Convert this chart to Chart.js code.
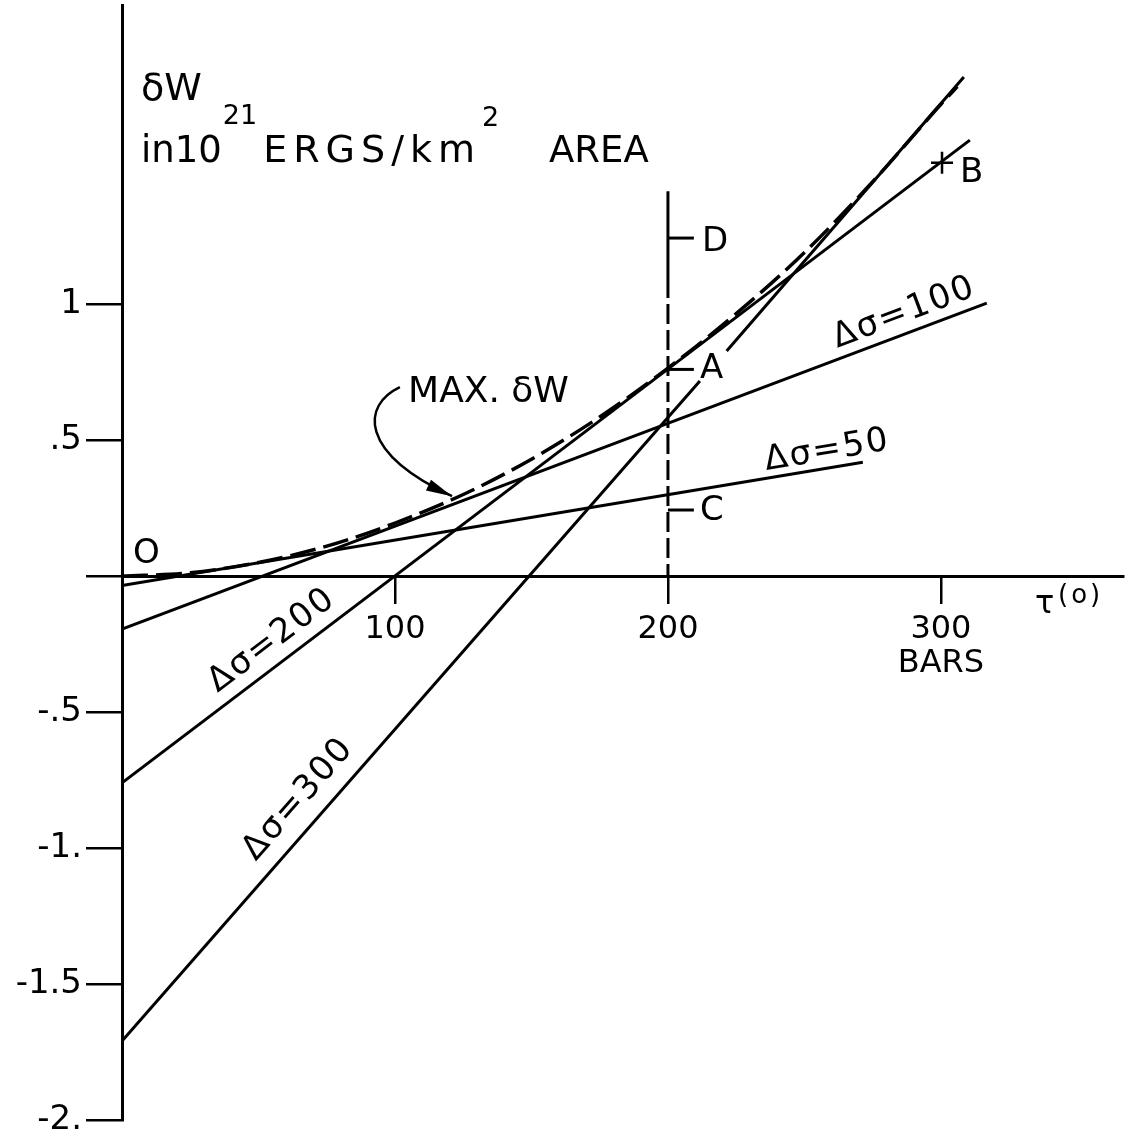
<!DOCTYPE html>
<html>
<head>
<meta charset="utf-8">
<script src="https://cdn.jsdelivr.net/npm/chart.js@4.4.0/dist/chart.umd.min.js"></script>
<style>
  html, body { margin: 0; padding: 0; background: #fff; }
</style>
</head>
<body>
<canvas id="grafico" width="1131" height="1138"></canvas>
<script>
// axis ticks
const xTicks = [0, 100, 200, 300];
const xTickLabels = ['', '100', '200', ['300', 'BARS']];
const yTicks = [-2, -1.5, -1, -0.5, 0, 0.5, 1];
const yTickLabels = ['-2.', '-1.5', '-1.', '-.5', '', '.5', '1'];

// straight lines, one per stress drop (null = gap under the "A")
const sigmaNames = ['Δσ=50', 'Δσ=100', 'Δσ=200', 'Δσ=300'];
const sigmaTau = [[0, 271.4], [0, 316.8], [0, 310.6], [0, 211.7, 211.7, 221.5, 308.4]];
const sigmaW = [[-0.035, 0.419], [-0.195, 1.004], [-0.76, 1.603], [-1.71, 0.717, null, 0.828, 1.835]];
const sigmaLabelTau = [236, 262, 35, 49];
const sigmaLabelW = [0.39, 0.84, -0.43, -1.05];

// envelope (max dW), dashed
const maxTau = [0, 25, 50, 75, 100, 125, 150, 175, 200, 225, 250, 275, 300, 306];
const maxW = [0, 0.012, 0.05, 0.11, 0.195, 0.30, 0.43, 0.585, 0.765, 0.965, 1.19, 1.45, 1.735, 1.80];

// vertical line at tau = 200 and its marks
const vertTau = [200, 200];
const vertSolidW = [1.415, 1.096];
const vertDashW = [1.096, 0];
const markNames = ['D', 'A', 'C'];
const markTau = [200, 209.5];
const markW = [1.243, 0.76, 0.243];
const markLabelTau = [212.5, 211.7, 211.7];
const markLabelW = [1.195, 0.728, 0.206];

// point B and the origin letter
const bTau = [300.4];
const bW = [1.52];
const letterNames = ['B', 'O'];
const letterTau = [307, 4];
const letterW = [1.45, 0.048];

// arrow from "MAX. dW" to the curve (start, control 1, control 2, end)
const arrowTau = [101.8, 87.9, 86.4, 120.9];
const arrowW = [0.695, 0.629, 0.456, 0.294];
const maxLabelTau = [104.8];
const maxLabelW = [0.64];

const FONT = '"DejaVu Sans", sans-serif';

function pts(t, w) {
    return t.map((v, i) => ({x: v, y: w[i]}));
}

function linha(data, extra) {
    return Object.assign({
        data: data,
        borderColor: '#000',
        borderWidth: 3,
        pointRadius: 0,
        fill: false,
        tension: 0
    }, extra || {});
}

const datasets = [];
for (let i = 0; i < sigmaNames.length; i++) {
    datasets.push(linha(pts(sigmaTau[i], sigmaW[i])));
}
datasets.push(linha(pts(maxTau, maxW), {
    borderDash: [26, 8],
    borderWidth: 3.5,
    cubicInterpolationMode: 'monotone'
}));
datasets.push(linha(pts(vertTau, vertSolidW)));
datasets.push(linha(pts(vertTau, vertDashW), {borderDash: [20, 6]}));
for (let i = 0; i < markNames.length; i++) {
    datasets.push(linha(pts(markTau, [markW[i], markW[i]])));
}
datasets.push({
    data: pts(bTau, bW),
    showLine: false,
    pointStyle: 'cross',
    pointRadius: 11,
    borderColor: '#000',
    borderWidth: 2.5
});

// draws a piece of text and gives back where it ends
function texto(ctx, str, x, y, size, spacing) {
    ctx.font = size + 'px ' + FONT;
    ctx.letterSpacing = (spacing || 0) + 'px';
    ctx.fillText(str, x, y);
    const w = ctx.measureText(str).width;
    ctx.letterSpacing = '0px';
    return x + w;
}

const anotacoes = {
    id: 'anotacoes',
    afterDatasetsDraw(chart) {
        const ctx = chart.ctx;
        const sx = chart.scales.x;
        const sy = chart.scales.y;
        const px = t => sx.getPixelForValue(t);
        const py = w => sy.getPixelForValue(w);
        ctx.save();
        ctx.fillStyle = '#000';
        ctx.strokeStyle = '#000';
        ctx.textBaseline = 'alphabetic';
        ctx.textAlign = 'left';

        // axis title
        texto(ctx, 'δW', 141, 100, 38);
        let x = texto(ctx, 'in10', 141, 162, 37);
        x = texto(ctx, '21', x + 1, 124, 27);
        x = texto(ctx, 'ERGS/km', x + 6, 162, 38, 6);
        texto(ctx, '2', x + 1, 126, 27);
        texto(ctx, 'AREA', 549, 162, 37);

        // tau axis name
        texto(ctx, 'τ', 1035, 613, 32);
        texto(ctx, '(o)', 1058, 603, 26, 3);

        // labels along the lines
        for (let i = 0; i < sigmaNames.length; i++) {
            const t = sigmaTau[i], w = sigmaW[i];
            const last = t.length - 1;
            const ang = Math.atan2(py(w[last]) - py(w[0]), px(t[last]) - px(t[0]));
            ctx.save();
            ctx.translate(px(sigmaLabelTau[i]), py(sigmaLabelW[i]));
            ctx.rotate(ang);
            texto(ctx, sigmaNames[i], 0, 0, 34, 2);
            ctx.restore();
        }

        // letters
        for (let i = 0; i < markNames.length; i++) {
            texto(ctx, markNames[i], px(markLabelTau[i]), py(markLabelW[i]), 34);
        }
        for (let i = 0; i < letterNames.length; i++) {
            texto(ctx, letterNames[i], px(letterTau[i]), py(letterW[i]), 34);
        }

        // MAX. dW with its arrow
        texto(ctx, 'MAX. δW', px(maxLabelTau[0]), py(maxLabelW[0]), 36);
        const ax = arrowTau.map(px), ay = arrowW.map(py);
        ctx.lineWidth = 2.5;
        ctx.beginPath();
        ctx.moveTo(ax[0], ay[0]);
        ctx.bezierCurveTo(ax[1], ay[1], ax[2], ay[2], ax[3], ay[3]);
        ctx.stroke();
        const a = Math.atan2(ay[3] - ay[2], ax[3] - ax[2]);
        ctx.beginPath();
        ctx.moveTo(ax[3], ay[3]);
        ctx.lineTo(ax[3] - 26 * Math.cos(a) + 6 * Math.sin(a), ay[3] - 26 * Math.sin(a) - 6 * Math.cos(a));
        ctx.lineTo(ax[3] - 26 * Math.cos(a) - 6 * Math.sin(a), ay[3] - 26 * Math.sin(a) + 6 * Math.cos(a));
        ctx.closePath();
        ctx.fill();

        ctx.restore();
    }
};

// keep the tick labels from pushing the plot area in
function semPadding(s) {
    s.paddingTop = 0;
    s.paddingBottom = 0;
    s.paddingLeft = 0;
    s.paddingRight = 0;
}

new Chart(document.getElementById('grafico'), {
    type: 'line',
    data: {datasets: datasets},
    plugins: [anotacoes],
    options: {
        responsive: false,
        animation: false,
        devicePixelRatio: 1,
        layout: {autoPadding: false, padding: {top: 5, right: 8, bottom: 18, left: 0}},
        plugins: {legend: {display: false}, tooltip: {enabled: false}},
        scales: {
            x: {
                type: 'linear',
                min: 0,
                max: 366.7,
                position: {y: 0},
                afterBuildTicks: s => { s.ticks = xTicks.map(v => ({value: v})); },
                afterFit: semPadding,
                border: {display: true, color: '#000', width: 3},
                grid: {drawOnChartArea: false, drawTicks: true, tickLength: 26, color: '#000', lineWidth: 2.5},
                ticks: {
                    autoSkip: false,
                    maxRotation: 0,
                    padding: 11,
                    color: '#000',
                    font: {family: FONT, size: 32, lineHeight: 1.05},
                    callback: v => xTickLabels[xTicks.indexOf(v)]
                }
            },
            y: {
                type: 'linear',
                min: -2,
                max: 2.1,
                position: 'left',
                afterBuildTicks: s => { s.ticks = yTicks.map(v => ({value: v})); },
                afterFit: s => { s.width = 122; semPadding(s); },
                border: {display: true, color: '#000', width: 3},
                grid: {drawOnChartArea: false, drawTicks: true, tickLength: 36, color: '#000', lineWidth: 2.5},
                ticks: {
                    autoSkip: false,
                    padding: 4,
                    color: '#000',
                    font: {family: FONT, size: 34, lineHeight: 1},
                    callback: v => yTickLabels[yTicks.indexOf(v)]
                }
            }
        }
    }
});
</script>
</body>
</html>
